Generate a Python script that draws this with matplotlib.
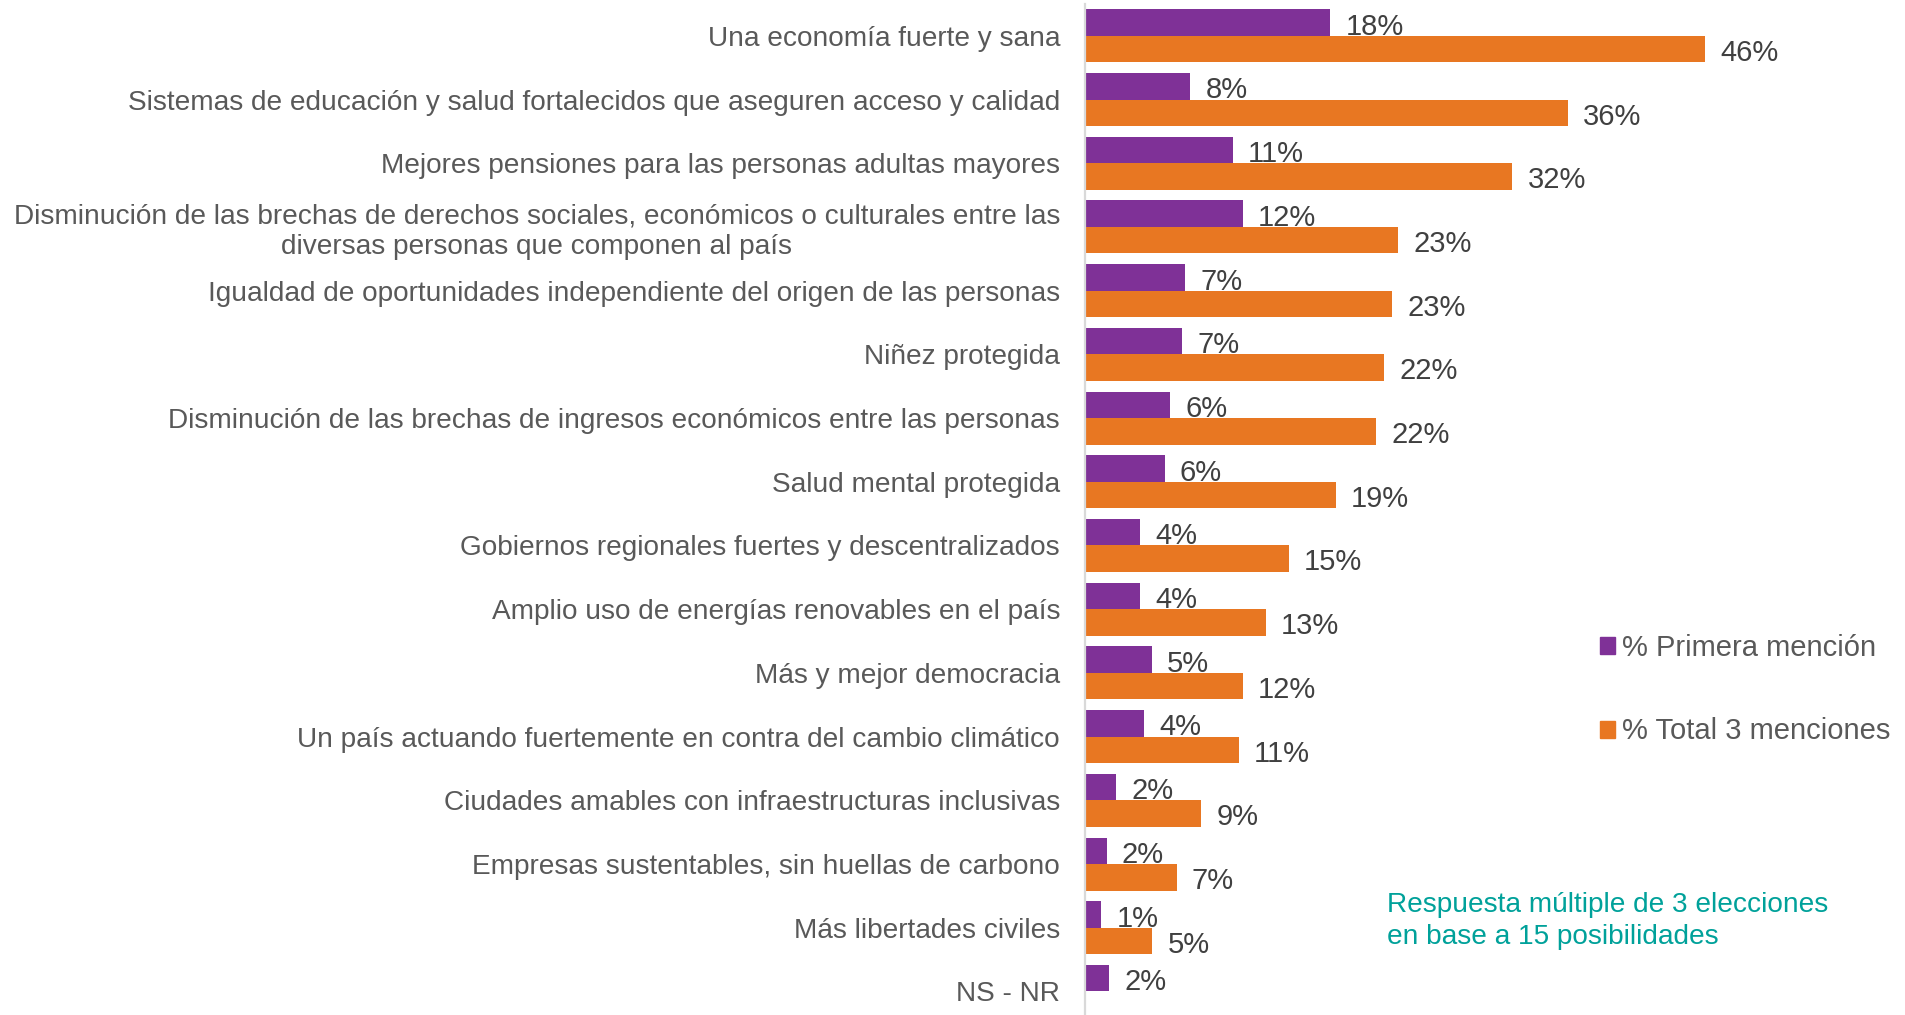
import matplotlib
matplotlib.use("Agg")
import matplotlib.pyplot as plt
from matplotlib.patches import Patch
import numpy as np

plt.rcParams['font.family'] = ['Liberation Sans', 'DejaVu Sans']

categories = [
    "Una economía fuerte y sana",
    "Sistemas de educación y salud fortalecidos que aseguren acceso y calidad",
    "Mejores pensiones para las personas adultas mayores",
    "Disminución de las brechas de derechos sociales, económicos o culturales entre las\ndiversas personas que componen al país",
    "Igualdad de oportunidades independiente del origen de las personas",
    "Niñez protegida",
    "Disminución de las brechas de ingresos económicos entre las personas",
    "Salud mental protegida",
    "Gobiernos regionales fuertes y descentralizados",
    "Amplio uso de energías renovables en el país",
    "Más y mejor democracia",
    "Un país actuando fuertemente en contra del cambio climático",
    "Ciudades amables con infraestructuras inclusivas",
    "Empresas sustentables, sin huellas de carbono",
    "Más libertades civiles",
    "NS - NR",
]
primera = [18.2, 7.8, 10.95, 11.7, 7.4, 7.2, 6.3, 5.9, 4.05, 4.05, 4.95, 4.4, 2.3, 1.6, 1.2, 1.8]
total = [46.0, 35.8, 31.7, 23.2, 22.8, 22.2, 21.6, 18.6, 15.1, 13.4, 11.7, 11.4, 8.6, 6.8, 5.0, np.nan]
series_names = ["% Primera mención", "% Total 3 menciones"]
note = "Respuesta múltiple de 3 elecciones\nen base a 15 posibilidades"

PURPLE = "#7F3197"
ORANGE = "#E87722"
LABEL_GRAY = "#595959"
VALUE_GRAY = "#404040"
TEAL = "#00A19A"

W, H = 1905, 1015
fig = plt.figure(figsize=(W / 100, H / 100), dpi=100)
ax = fig.add_axes([1085 / W, 0, (1894 - 1085) / W, (H - 4) / H])

y = np.arange(len(categories))
h = 0.416
b1 = ax.barh(y - h / 2, primera, height=h, color=PURPLE, label=series_names[0])
tot = np.array(total, dtype=float)
b2 = ax.barh(y + h / 2, np.nan_to_num(tot), height=h, color=ORANGE, label=series_names[1])

ax.set_xlim(0, 60)
ax.set_ylim(15.37, -0.5)

for yi, v in zip(y, primera):
    ax.annotate(f"{v:.0f}%", xy=(v, yi - h / 2), xytext=(11, -0.8), textcoords="offset points",
                va="center_baseline", ha="left", fontsize=21, color=VALUE_GRAY)
for yi, v in zip(y, tot):
    if np.isnan(v):
        continue
    ax.annotate(f"{v:.0f}%", xy=(v, yi + h / 2), xytext=(11, -0.5), textcoords="offset points",
                va="center_baseline", ha="left", fontsize=21, color=VALUE_GRAY)

ax.set_yticks(y)
ax.set_yticklabels(categories, fontsize=20.2, color=LABEL_GRAY)
for t in ax.get_yticklabels():
    t.set_multialignment("center")
ax.tick_params(axis="y", length=0, pad=18)
ax.set_xticks([])
for s in ["top", "right", "bottom"]:
    ax.spines[s].set_visible(False)
ax.spines["left"].set_color("#D9D9D9")
ax.spines["left"].set_linewidth(1.6)

leg = fig.legend(handles=[Patch(color=PURPLE), Patch(color=ORANGE)], labels=series_names,
                 loc="upper left", bbox_to_anchor=(1600 / W, 1 - 634 / H),
                 frameon=False, fontsize=21, labelcolor=LABEL_GRAY,
                 handlelength=0.52, handleheight=0.52, handletextpad=0.25,
                 labelspacing=1.9, borderpad=0, borderaxespad=0)

fig.text(1387 / W, 1 - 921 / H, note, fontsize=20.2, color=TEAL, va="center", ha="left",
         linespacing=1.3)

fig.savefig("out.png", dpi=100)
